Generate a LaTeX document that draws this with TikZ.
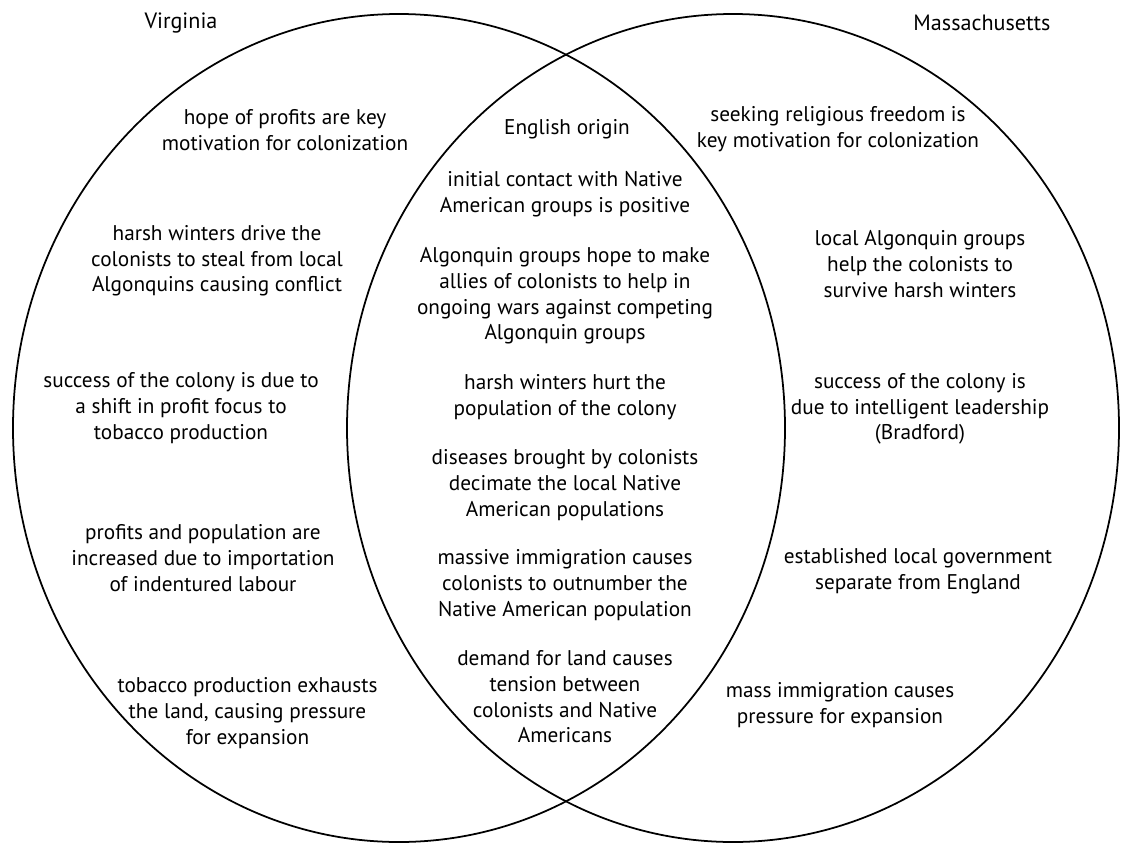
\documentclass[tikz,border=0pt]{standalone}
\usepackage{fontspec}
\setmainfont{PT Sans}
\usepackage{tikz}
\usetikzlibrary{positioning, calc}

\begin{document}
\begin{tikzpicture}[
    item/.style={align=center, inner sep=0pt,
      font=\fontsize{12.1}{14.6}\selectfont},
    head/.style={inner sep=0pt, font=\fontsize{12.6}{15}\selectfont}
  ]

  % --- Cornice ---
  \useasboundingbox (0,0) rectangle (22.52,-16.86);

  % --- Ellissi ---
  \draw[line width=1pt] (7.98,-8.56) ellipse [x radius=7.72cm, y radius=8.28cm];
  \draw[line width=1pt] (14.66,-8.56) ellipse [x radius=7.72cm, y radius=8.28cm];

  % --- Titoli ---
  \node[head] (va) at (3.62,-0.46) {Virginia};
  \node[head] (ma) at (19.64,-0.46) {Massachusetts};

  % --- Virginia ---
  \node[item] (vaProfit) at (5.7,-2.6)
    {hope of profits are key\\motivation for colonization};
  \node[item] (vaWinter) at (4.34,-5.22)
    {harsh winters drive the\\colonists to steal from local\\Algonquins causing conflict};
  \node[item] (vaTobacco) at (3.62,-8.16)
    {success of the colony is due to\\a shift in profit focus to\\tobacco production};
  \node[item] (vaLabour) at (4.06,-11.16)
    {profits and population are\\increased due to importation\\of indentured labour};
  \node[item] (vaLand) at (4.95,-14.26)
    {tobacco production exhausts\\the land, causing pressure\\for expansion};

  % --- Comune ---
  \node[item] (coOrigin) at (11.34,-2.58) {English origin};
  \node[item] (coContact) at (11.3,-3.88)
    {initial contact with Native\\American groups is positive};
  \node[item] (coAllies) at (11.3,-5.92)
    {Algonquin groups hope to make\\allies of colonists to help in\\ongoing wars against competing\\Algonquin groups};
  \node[item] (coHurt) at (11.3,-7.94)
    {harsh winters hurt the\\population of the colony};
  \node[item] (coDisease) at (11.3,-9.7)
    {diseases brought by colonists\\decimate the local Native\\American populations};
  \node[item] (coImmig) at (11.3,-11.7)
    {massive immigration causes\\colonists to outnumber the\\Native American population};
  \node[item] (coLand) at (11.3,-13.94)
    {demand for land causes\\tension between\\colonists and Native\\Americans};

  % --- Massachusetts ---
  \node[item] (maFreedom) at (16.76,-2.58)
    {seeking religious freedom is\\key motivation for colonization};
  \node[item] (maHelp) at (18.4,-5.28)
    {local Algonquin groups\\help the colonists to\\survive harsh winters};
  \node[item] (maLeader) at (18.4,-8.18)
    {success of the colony is\\due to intelligent leadership\\(Bradford)};
  \node[item] (maGov) at (18.36,-11.42)
    {established local government\\separate from England};
  \node[item] (maExpand) at (16.8,-14.1)
    {mass immigration causes\\pressure for expansion};

\end{tikzpicture}
\end{document}
